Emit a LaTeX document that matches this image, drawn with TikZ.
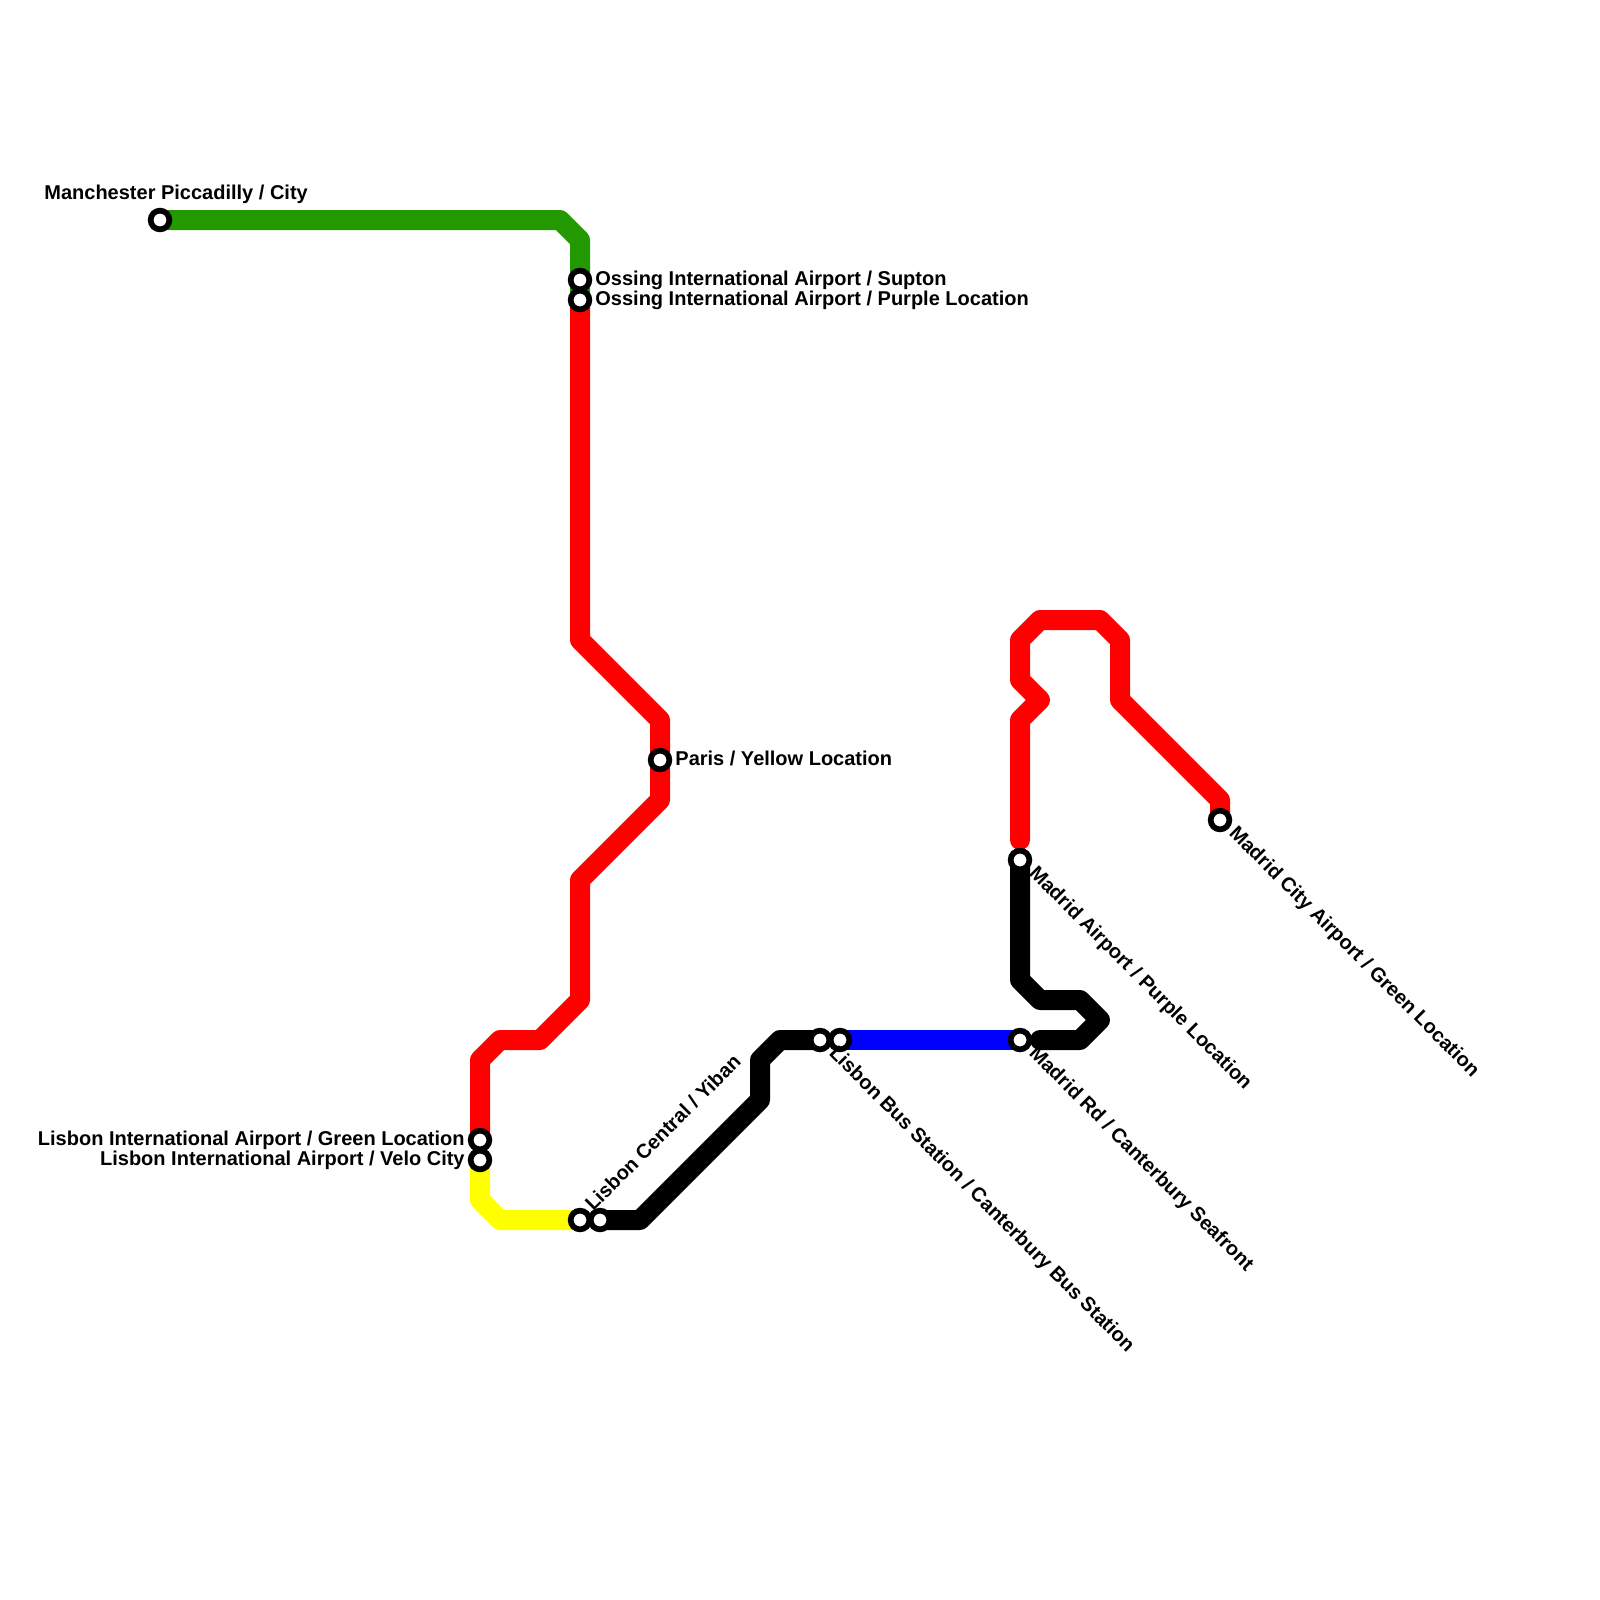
\documentclass[tikz,border=0pt]{standalone}
\usepackage{fontspec}
\setmainfont{Liberation Sans}
\definecolor{lgreen}{HTML}{229900}
\definecolor{lred}{HTML}{FF0000}
\definecolor{lyellow}{HTML}{FFFF00}
\definecolor{lblue}{HTML}{0000FF}
\definecolor{lblack}{HTML}{000000}
\tikzset{
  every picture/.style={x=0.5pt,y=-0.5pt},
  lineseg/.style={line width=10pt,line cap=round,line join=round},
  stn/.style={circle,draw=lblack,fill=white,line width=2.85pt,minimum size=9.35pt,inner sep=0pt},
  lbl/.style={font=\bfseries\fontsize{10}{10}\selectfont,inner sep=0pt,text=lblack},
}
\begin{document}
\begin{tikzpicture}
\useasboundingbox (0,0) rectangle (1600,1600);
% stations
\path
 (160,220) coordinate (pManchester)
 (580,280) coordinate (pOssA)
 (580,300) coordinate (pOssB)
 (660,760) coordinate (pParis)
 (480,1140) coordinate (pLisA)
 (480,1160) coordinate (pLisB)
 (580,1220) coordinate (pCenA)
 (600,1220) coordinate (pCenB)
 (820,1040) coordinate (pBusA)
 (840,1040) coordinate (pBusB)
 (1020,1040) coordinate (pMRd)
 (1020,860) coordinate (pMAir)
 (1220,820) coordinate (pMCity)
 (1020,840) coordinate (redEnd)
 (1040,1040) coordinate (blackEnd);
\draw[lineseg,lgreen] (pManchester) -- (560,220) -- (580,240) -- (pOssB);
\draw[lineseg,lred] (pOssB) -- (580,640) -- (660,720) -- (660,800) -- (580,880) -- (580,1000) -- (540,1040) -- (500,1040) -- (480,1060) -- (pLisA);
\draw[lineseg,lyellow] (pLisB) -- (480,1200) -- (500,1220) -- (pCenA);
\draw[lineseg,lblack] (pCenB) -- (640,1220) -- (760,1100) -- (760,1060) -- (780,1040) -- (pBusA);
\draw[lineseg,lblue] (pBusB) -- (pMRd);
\draw[lineseg,lblack] (blackEnd) -- (1080,1040) -- (1100,1020) -- (1080,1000) -- (1040,1000) -- (1020,980) -- (pMAir);
\draw[lineseg,lred] (redEnd) -- (1020,720) -- (1040,700) -- (1020,680) -- (1020,640) -- (1040,620) -- (1100,620) -- (1120,640) -- (1120,700) -- (1220,800) -- (pMCity);
\node[stn] (sManchester) at (pManchester) {};
\node[stn] (sOssA) at (pOssA) {};
\node[stn] (sOssB) at (pOssB) {};
\node[stn] (sParis) at (pParis) {};
\node[stn] (sLisA) at (pLisA) {};
\node[stn] (sLisB) at (pLisB) {};
\node[stn] (sCenA) at (pCenA) {};
\node[stn] (sCenB) at (pCenB) {};
\node[stn] (sBusA) at (pBusA) {};
\node[stn] (sBusB) at (pBusB) {};
\node[stn] (sMRd) at (pMRd) {};
\node[stn] (sMAir) at (pMAir) {};
\node[stn] (sMCity) at (pMCity) {};
% labels
\node[lbl,anchor=base west] (lManchester) at (44,199) {Manchester Piccadilly / City};
\node[lbl,anchor=base west] (lOssA) at (595,285) {Ossing International Airport / Supton};
\node[lbl,anchor=base west] (lOssB) at (595,305) {Ossing International Airport / Purple Location};
\node[lbl,anchor=base west] (lParis) at (675,765) {Paris / Yellow Location};
\node[lbl,anchor=base east] (lLisA) at (465,1145) {Lisbon International Airport / Green Location};
\node[lbl,anchor=base east] (lLisB) at (465,1165) {Lisbon International Airport / Velo City};
\node[lbl,anchor=base west,rotate=45] (lCen) at (593,1212) {Lisbon Central / Yiban};
\node[lbl,anchor=base west,rotate=-45] (lBus) at (828,1054) {Lisbon Bus Station / Canterbury Bus Station};
\node[lbl,anchor=base west,rotate=-45] (lMRd) at (1028,1054) {Madrid Rd / Canterbury Seafront};
\node[lbl,anchor=base west,rotate=-45] (lMAir) at (1028,874) {Madrid Airport / Purple Location};
\node[lbl,anchor=base west,rotate=-45] (lMCity) at (1228,834) {Madrid City Airport / Green Location};
\end{tikzpicture}
\end{document}
